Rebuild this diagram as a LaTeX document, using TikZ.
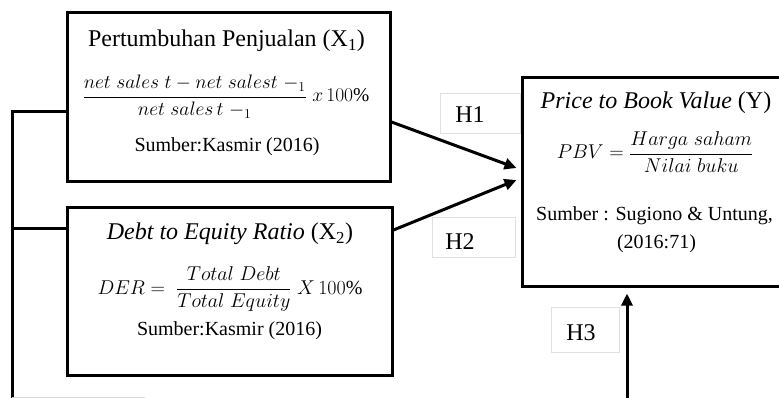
\RequirePackage{fix-cm}
\documentclass[tikz,border=0pt]{standalone}
\usepackage{amsmath}
\usepackage{fontspec}
\setmainfont{Liberation Serif}
\usetikzlibrary{arrows.meta}
\begin{document}
\begin{tikzpicture}[x=1pt,y=-1pt,
  box/.style={draw=black, line width=3pt, inner sep=0pt},
  conn/.style={line width=3pt},
  arr/.style={line width=3pt, -{Triangle[length=12pt,width=11pt]}},
  lab/.style={draw=black!12, line width=0.8pt, fill=white, inner sep=0pt},
  ttl/.style={font=\fontsize{24}{28}\selectfont, anchor=base, inner sep=0pt},
  src/.style={font=\fontsize{20}{24}\selectfont, anchor=base, inner sep=0pt},
  frm/.style={font=\fontsize{20}{24}\selectfont, anchor=base, inner sep=0pt},
  htxt/.style={font=\fontsize{24}{28}\selectfont, inner sep=0pt}]
\useasboundingbox (0,0) rectangle (779,398);
\clip (0,0) rectangle (779,398);

% label boxes
\node[lab, minimum width=80pt, minimum height=40pt] (h1box) at (480,113) {};
\node[lab, minimum width=83pt, minimum height=40pt] (h2box) at (473.5,237) {};
\node[lab, minimum width=68pt, minimum height=45pt] (h3box) at (585,329.5) {};
\node[htxt] (h1) at (470,115) {H1};
\node[htxt] (h2) at (460,241.5) {H2};
\node[htxt] (h3) at (581,332.5) {H3};

% main boxes
\node[box, minimum width=323pt, minimum height=169pt] (x1) at (228.5,97.5) {};
\node[box, minimum width=325pt, minimum height=167pt] (x2) at (229.5,291.5) {};
\node[box, minimum width=268pt, minimum height=208pt] (yb) at (656,182) {};

% texts box X1
\node[ttl] (x1t) at (226.5,47) {Pertumbuhan Penjualan (X\textsubscript{1})};
\node[frm, font=\fontsize{19.5}{23}\selectfont] (x1f) at (226,102) {$\dfrac{net\;sales\;t - net\;salest\;{-}_1}{net\;sales\,t\;{-}_1}\;x\,100\%$};
\node[src] (x1s) at (227,152) {Sumber:Kasmir (2016)};

% texts box X2
\node[ttl] (x2t) at (230,240) {\textit{Debt to Equity Ratio} (X\textsubscript{2})};
\node[frm] (x2f) at (230,294) {$DER =\;\dfrac{Total\;Debt}{Total\;Equity}\;X\,100\%$};
\node[src] (x2s) at (229.5,335) {Sumber:Kasmir (2016)};

% texts box Y
\node[ttl] (yt) at (656,109) {\textit{Price to Book Value} (Y)};
\node[frm] (yf) at (655,159) {$PBV = \dfrac{Harga\;saham}{Nilai\;buku}$};
\node[src] (ys1) at (654.5,221) {Sumber : Sugiono \& Untung,};
\node[src] (ys2) at (656.5,248) {(2016:71)};

% left connector
\coordinate (lb) at (12,400);
\coordinate (c1) at (12,112);
\coordinate (c2) at (12,229);
\draw[conn] (lb) -- (c1) -- (c1 -| x1.west);
\draw[conn] (c2) -- (c2 -| x2.west);
\draw[black!15, line width=1pt] (12,397) -- (145,397);

% arrows
\draw[arr] ([yshift=-24.5pt]x1.east) -- ([xshift=-4pt,yshift=14pt]yb.west);
\draw[arr] ([yshift=61.5pt]x2.east) -- ([xshift=-4pt,yshift=2pt]yb.west);
\coordinate (b3) at (627,400);
\draw[arr] (b3) -- ([yshift=-6pt]b3 |- yb.south);
\end{tikzpicture}
\end{document}
